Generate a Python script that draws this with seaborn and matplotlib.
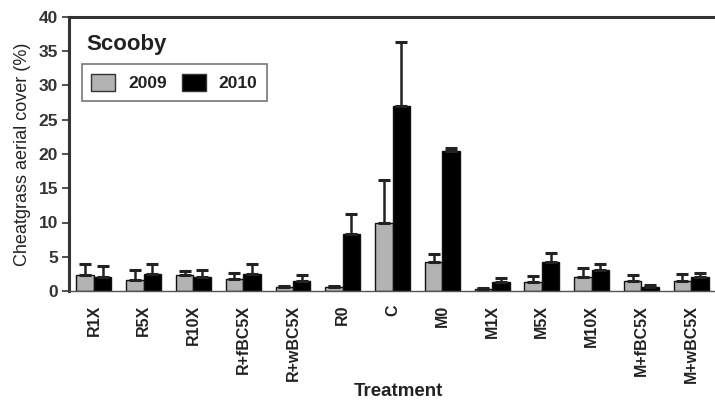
import numpy as np
import pandas as pd
import matplotlib
matplotlib.use("Agg")
import matplotlib.pyplot as plt
import seaborn as sns
from matplotlib.patches import Patch

treatments = ["R1X", "R5X", "R10X", "R+fBC5X", "R+wBC5X", "R0", "C", "M0",
              "M1X", "M5X", "M10X", "M+fBC5X", "M+wBC5X"]
cover_2009 = [2.3, 1.6, 2.3, 1.8, 0.6, 0.6, 10.0, 4.3, 0.3, 1.3, 2.1, 1.5, 1.5]
err_2009 = [1.6, 1.4, 0.6, 0.9, 0.2, 0.2, 6.2, 1.1, 0.2, 0.9, 1.2, 0.9, 1.0]
cover_2010 = [2.1, 2.5, 2.1, 2.5, 1.5, 8.3, 27.0, 20.5, 1.3, 4.3, 3.0, 0.6, 2.0]
err_2010 = [1.6, 1.5, 1.0, 1.5, 0.9, 3.0, 9.3, 0.4, 0.6, 1.3, 1.0, 0.3, 0.7]
years = ["2009", "2010"]

df = pd.DataFrame({
    "Treatment": treatments * 2,
    "Year": [years[0]] * len(treatments) + [years[1]] * len(treatments),
    "Cover": cover_2009 + cover_2010,
    "Err": err_2009 + err_2010,
})

sns.set_style("white")
plt.rcParams["font.family"] = ["Liberation Sans", "DejaVu Sans"]

fig = plt.figure(figsize=(7.15, 4.0), dpi=100)
ax = fig.add_axes([0.0965, 0.2725, 0.905, 0.685])

palette = {"2009": "#b3b3b3", "2010": "#000000"}
sns.barplot(data=df, x="Treatment", y="Cover", hue="Year", order=treatments,
            hue_order=years, palette=palette, width=0.7, errorbar=None,
            edgecolor="#111111", linewidth=1.0, saturation=1, ax=ax,
            legend=False)

# upward-only error bars with caps, placed on each bar
for container, yr in zip(ax.containers, years):
    sub = df[df["Year"] == yr].set_index("Treatment").loc[treatments]
    xs = [p.get_x() + p.get_width() / 2 for p in container.patches]
    ax.errorbar(xs, sub["Cover"].values,
                yerr=[np.zeros(len(xs)), sub["Err"].values],
                fmt="none", ecolor="#222222", elinewidth=1.8,
                capsize=4.5, capthick=2.2, zorder=3)

ax.set_ylim(0, 40)
ax.set_xlim(-0.5, len(treatments) - 0.5)
ax.set_yticks(np.arange(0, 41, 5))
ax.set_yticklabels([str(v) for v in range(0, 41, 5)],
                   fontsize=12.5, fontweight="bold", color="#333333")
ax.set_xticks(range(len(treatments)))
ax.set_xticklabels(treatments, rotation=90, fontsize=11.5,
                   fontweight="bold", color="#222222")
ax.set_xticks(np.arange(-0.5, len(treatments), 1.0), minor=True)
ax.tick_params(axis="x", which="major", length=0, pad=10)
ax.tick_params(axis="x", which="minor", length=4, width=0.8,
               color="#555555", direction="out")
ax.tick_params(axis="y", which="major", length=5, width=1.2,
               color="#333333", direction="out", pad=3, left=True)

for side in ["top", "left"]:
    ax.spines[side].set_linewidth(2.2)
    ax.spines[side].set_color("#333333")
ax.spines["bottom"].set_linewidth(1.0)
ax.spines["bottom"].set_color("#555555")
ax.spines["right"].set_visible(False)

ax.set_ylabel("Cheatgrass aerial cover (%)", fontsize=13, color="#222222",
              labelpad=5)
ax.set_xlabel("Treatment", fontsize=13.5, fontweight="bold",
              color="#222222", va="center")
ax.xaxis.set_label_coords(0.509, -0.365)

ax.text(0.027, 0.90, "Scooby", transform=ax.transAxes, fontsize=16,
        fontweight="bold", color="#222222", va="center", ha="left")

handles = [Patch(facecolor=palette[y], edgecolor="#333333", linewidth=1.0)
           for y in years]
leg = ax.legend(handles, years, loc="upper left",
                bbox_to_anchor=(0.020, 0.828), ncol=2, frameon=True,
                fancybox=False, edgecolor="#555555",
                prop={"weight": "bold", "size": 12.5},
                handlelength=1.35, handleheight=1.2, columnspacing=0.9,
                handletextpad=0.75, borderpad=0.55, borderaxespad=0)
leg.get_frame().set_linewidth(1.2)
for t in leg.get_texts():
    t.set_color("#222222")

fig.savefig("out.png", dpi=100, facecolor="white")
